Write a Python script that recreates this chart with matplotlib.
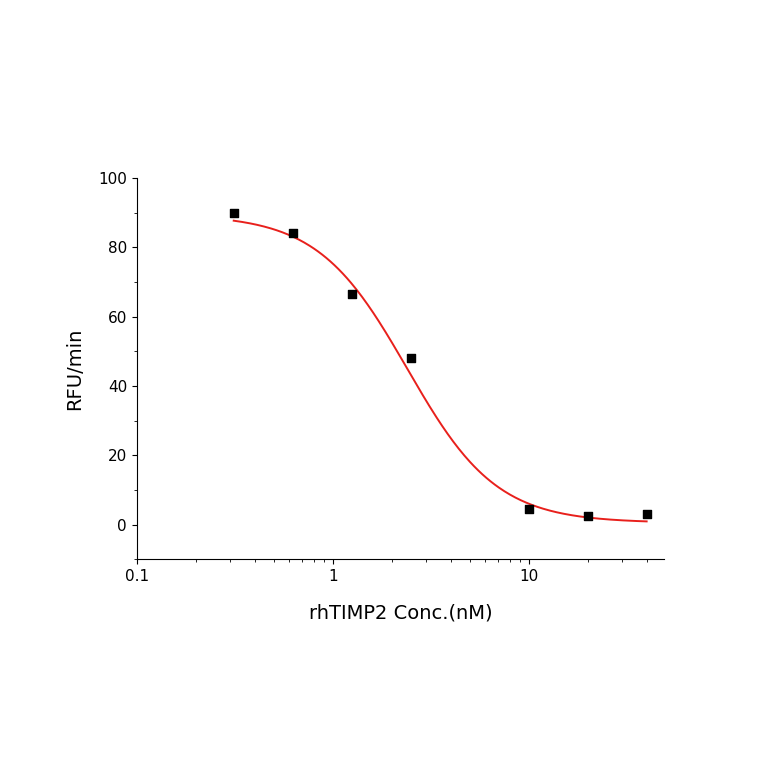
import numpy as np
import matplotlib
matplotlib.use("Agg")
import matplotlib.pyplot as plt
from matplotlib.ticker import FixedLocator, NullFormatter

conc = [0.3125, 0.625, 1.25, 2.5, 10, 20, 40]
rfu = [90, 84, 66.5, 48, 4.5, 2.5, 3]
# 4PL fit parameters (estimated)
top, bottom, ic50, hill = 89.5, 0.5, 2.4, 1.9

fig = plt.figure(figsize=(7.64, 7.64), dpi=100)
ax = fig.add_axes([0.179, 0.268, 0.69, 0.499])
xs = np.logspace(np.log10(conc[0]), np.log10(conc[-1]), 300)
ys = bottom + (top - bottom) / (1 + (xs / ic50) ** hill)
ax.plot(xs, ys, color="#e8201c", lw=1.4)
ax.scatter(conc, rfu, marker="s", s=30, color="black", zorder=3)
ax.set_xscale("log")
ax.set_xlim(0.1, 49)
ax.set_ylim(-10, 100)
ax.set_yticks([0, 20, 40, 60, 80, 100])
ax.yaxis.set_minor_locator(FixedLocator(np.arange(-10, 101, 10)))
ax.xaxis.set_minor_formatter(NullFormatter())
ax.set_xticks([0.1, 1, 10])
ax.set_xticklabels(["0.1", "1", "10"])
for s in ["top", "right"]:
    ax.spines[s].set_visible(False)
ax.tick_params(direction="out", labelsize=11)
ax.set_xlabel("rhTIMP2 Conc.(nM)", fontsize=14, labelpad=14)
ax.set_ylabel("RFU/min", fontsize=14, labelpad=10)
fig.savefig("out.png", dpi=100)
